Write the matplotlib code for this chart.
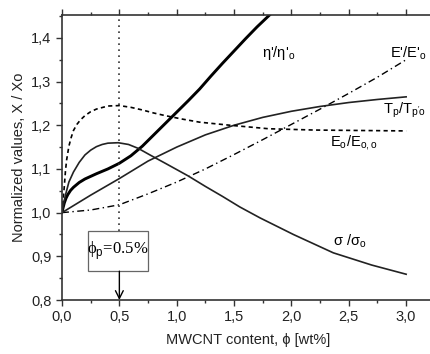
import matplotlib
matplotlib.use("Agg")
import matplotlib.pyplot as plt
from matplotlib.patches import Rectangle
from matplotlib.ticker import MultipleLocator, FuncFormatter

plt.rcParams["font.family"] = ["Liberation Sans", "DejaVu Sans"]
plt.rcParams["mathtext.fontset"] = "custom"
plt.rcParams["mathtext.rm"] = "Liberation Serif"
plt.rcParams["mathtext.sf"] = "Liberation Sans"

# eta'/eta'o (thick solid)
eta_x = [0.0, 0.01, 0.02, 0.035, 0.05, 0.075, 0.1, 0.15, 0.2, 0.3, 0.4, 0.5,
         0.6, 0.7, 0.8, 0.9, 1.0, 1.1, 1.2, 1.3, 1.4, 1.5, 1.6, 1.7, 1.82]
eta_y = [1.0, 1.012, 1.022, 1.033, 1.041, 1.051, 1.058, 1.069, 1.077, 1.089,
         1.1, 1.113, 1.13, 1.152, 1.178, 1.204, 1.23, 1.256, 1.283, 1.313,
         1.342, 1.37, 1.398, 1.425, 1.455]

# E'/E'o (dash-dot)
es_x = [0.0, 0.25, 0.5, 0.75, 1.0, 1.25, 1.5, 1.75, 2.0, 2.25, 2.5, 2.75, 3.0]
es_y = [1.0, 1.006, 1.018, 1.043, 1.07, 1.1, 1.133, 1.167, 1.202, 1.237,
        1.273, 1.31, 1.35]

# Tp/Tp'o (thin solid)
tp_x = [0.0, 0.25, 0.5, 0.75, 1.0, 1.25, 1.5, 1.75, 2.0, 2.25, 2.5, 2.75, 3.0]
tp_y = [1.0, 1.04, 1.078, 1.118, 1.15, 1.178, 1.2, 1.218, 1.232, 1.243,
        1.252, 1.259, 1.265]

# Eo/Eo,o (dashed)
eo_x = [0.0, 0.01, 0.02, 0.03, 0.04, 0.06, 0.08, 0.1, 0.13, 0.16, 0.2, 0.25,
        0.3, 0.4, 0.5, 0.6, 0.7, 0.8, 0.9, 1.05, 1.2, 1.465, 1.8, 2.2, 2.6, 3.0]
eo_y = [1.0, 1.03, 1.06, 1.095, 1.12, 1.152, 1.172, 1.188, 1.202, 1.212,
        1.222, 1.231, 1.237, 1.244, 1.245, 1.241, 1.235, 1.228, 1.222, 1.214,
        1.207, 1.2, 1.192, 1.189, 1.188, 1.187]

# sigma/sigma_o (thin solid)
sg_x = [0.0, 0.015, 0.03, 0.06, 0.1, 0.15, 0.2, 0.25, 0.3, 0.35, 0.4, 0.49,
        0.58, 0.665, 0.767, 0.9, 1.1, 1.25, 1.4, 1.55, 1.726, 2.017, 2.365,
        2.7, 3.0]
sg_y = [1.0, 1.022, 1.04, 1.07, 1.093, 1.115, 1.132, 1.143, 1.151, 1.156,
        1.159, 1.16, 1.156, 1.147, 1.132, 1.113, 1.084, 1.06, 1.037, 1.013,
        0.988, 0.95, 0.908, 0.88, 0.859]

phi_p = 0.5

fig = plt.figure(figsize=(4.3, 3.54), dpi=100)
ax = fig.add_axes([0.1442, 0.1525, 0.867, 0.8051])

ax.plot(eta_x, eta_y, color="black", lw=2.1, solid_capstyle="butt")
ax.plot(es_x, es_y, color="black", lw=1.0, dashes=(5, 2.5, 1, 2.5))
ax.plot(tp_x, tp_y, color="#222222", lw=1.2)
ax.plot(eo_x, eo_y, color="black", lw=1.2, dashes=(2.5, 2))
ax.plot(sg_x, sg_y, color="#222222", lw=1.2)

# vertical dotted line at phi_p up to the box
ax.plot([phi_p, phi_p], [0.957, 1.46], color="#333333", lw=1.2,
        dashes=(1, 2.6))

# box and arrow
ax.add_patch(Rectangle((0.227, 0.866), 0.523, 0.091, fc="white",
                       ec="#666666", lw=0.9, zorder=3))
ax.annotate("", xy=(phi_p, 0.8), xytext=(phi_p, 0.866),
            arrowprops=dict(arrowstyle="->", color="black", lw=1.0,
                            mutation_scale=14, shrinkA=0, shrinkB=0))
ax.text(0.49, 0.914, r"ϕ$_{\mathsf{p}}$=0.5%", ha="center",
        va="center", fontsize=12, family=["Liberation Serif", "DejaVu Serif"],
        zorder=4)

# curve labels
ax.text(1.74, 1.366, r"η'/η'$_\mathsf{o}$", fontsize=10.5, va="center")
ax.text(2.86, 1.366, r"E'/E'$_\mathsf{o}$", fontsize=10.5, va="center")
ax.text(2.80, 1.234, r"T$_\mathsf{p}$/T$_\mathsf{p'o}$", fontsize=10.5, va="center")
ax.text(2.34, 1.159, r"E$_\mathsf{o}$/E$_\mathsf{o,o}$", fontsize=10.5, va="center")
ax.text(2.36, 0.934, r"σ /σ$_\mathsf{o}$", fontsize=10.5, va="center")

ax.set_xlim(0, 3.25)
ax.set_ylim(0.8, 1.4523)
ax.xaxis.set_major_locator(MultipleLocator(0.5))
ax.xaxis.set_minor_locator(MultipleLocator(0.25))
ax.yaxis.set_major_locator(MultipleLocator(0.1))
ax.yaxis.set_minor_locator(MultipleLocator(0.05))
comma = FuncFormatter(lambda v, pos: f"{v:.1f}".replace(".", ","))
ax.xaxis.set_major_formatter(comma)
ax.yaxis.set_major_formatter(comma)

ax.tick_params(which="both", direction="out", top=True, right=False,
               labelsize=10.5, width=1.0, colors="#333333", labelcolor="#222222")
ax.tick_params(which="major", length=4)
ax.tick_params(which="minor", length=2)
ax.spines["right"].set_visible(False)
for s in ["left", "bottom", "top"]:
    ax.spines[s].set_linewidth(1.2)
    ax.spines[s].set_color("#333333")

ax.set_xlabel("MWCNT content, ϕ [wt%]", fontsize=10.5, color="#222222", labelpad=6)
ax.set_ylabel("Normalized values, X / Xo", fontsize=10.5, color="#222222", labelpad=4)

plt.savefig("out.png", dpi=100)
plt.close()
